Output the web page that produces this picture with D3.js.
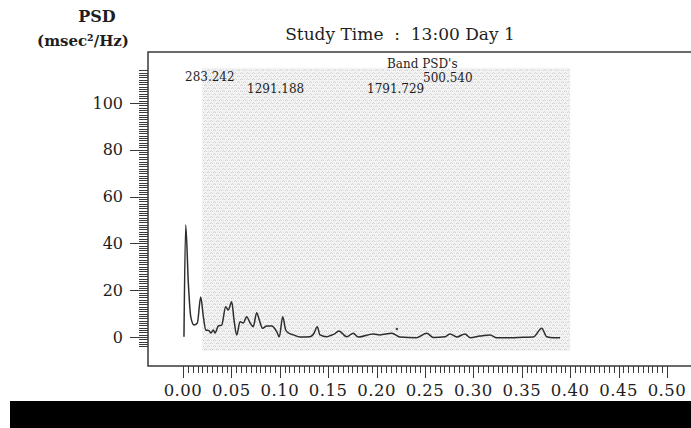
<!DOCTYPE html>
<html><head><meta charset="utf-8">
<script src="https://cdn.jsdelivr.net/npm/d3@7/dist/d3.min.js"></script>
<style>
html,body{margin:0;padding:0;background:#fff;}
svg{display:block;}
text{font-family:"DejaVu Serif",serif;fill:#1e1e1e;}
</style></head>
<body>
<svg id="chart" width="691" height="428"></svg>
<script>
// ---- data ----
const freqs = [0.0010,0.0028,0.0055,0.0080,0.0114,0.0148,0.0183,0.0210,0.0235,0.0269,0.0289,0.0313,0.0330,0.0365,0.0400,0.0441,0.0468,0.0503,0.0527,0.0555,0.0589,0.0623,0.0658,0.0692,0.0726,0.0761,0.0788,0.0823,0.0865,0.0916,0.0968,0.0995,0.1030,0.1061,0.1095,0.1140,0.1209,0.1312,0.1353,0.1387,0.1415,0.1485,0.1519,0.1560,0.1610,0.1691,0.1759,0.1811,0.1966,0.2035,0.2156,0.2242,0.2414,0.2518,0.2586,0.2707,0.2758,0.2828,0.2913,0.2965,0.3068,0.3171,0.3241,0.3378,0.3516,0.3619,0.3706,0.3757,0.3826,0.3895];
const psd   = [0.1,47.9,23.1,8.7,5.1,6.0,17.1,8.7,3.0,2.7,1.7,3.0,1.7,4.7,5.1,12.9,11.5,15.1,7.3,0.9,6.5,6.0,8.7,6.1,4.4,10.4,7.3,3.7,4.7,4.7,2.3,0.1,8.7,3.0,1.6,0.9,0.0,0.1,1.6,4.4,0.9,0.1,0.6,1.2,2.6,0.1,1.6,0.0,1.3,0.9,1.6,0.0,-0.3,1.6,-0.2,0.1,1.3,0.0,1.3,-0.3,0.4,0.9,-0.3,-0.3,-0.1,0.0,3.7,0.1,-0.3,-0.3];
const markerPoint = [0.221, 3.4];
const xTickLabels = ["0.00","0.05","0.10","0.15","0.20","0.25","0.30","0.35","0.40","0.45","0.50"];
const xTickValues = [0,0.05,0.10,0.15,0.20,0.25,0.30,0.35,0.40,0.45,0.50];
const yTickValues = [0,20,40,60,80,100];
const bandRange = [0.02, 0.40];
const bandValueRange = [-6, 115];
const bandTitle = "Band PSD's";
const bandValues = ["283.242","1291.188","1791.729","500.540"];
const titleText = "Study Time  :  13:00 Day 1";
const yTitle = ["PSD","(msec\u00B2/Hz)"];

// ---- drawing ----
const svg = d3.select("#chart");
const x = d3.scaleLinear().domain([0,0.5]).range([183,667]);
const y = d3.scaleLinear().domain([0,100]).range([337,103]);

// speckled pattern for band shading
const defs = svg.append("defs");
const pat = defs.append("pattern").attr("id","hatch").attr("patternUnits","userSpaceOnUse")
  .attr("width",6).attr("height",6);
pat.append("rect").attr("width",6).attr("height",6).attr("fill","#f4f4f4");
pat.append("path").attr("d","M0,2 L1.5,0.5 L3,2 M3,5 L4.5,3.5 L6,5").attr("fill","none")
  .attr("stroke","#c4c4c4").attr("stroke-width",0.8);
pat.append("path").attr("d","M1.5,3.5 L1.5,4.5 M4.5,0.5 L4.5,1.5").attr("fill","none")
  .attr("stroke","#d2d2d2").attr("stroke-width",0.7);

// black strip at bottom
svg.append("rect").attr("x",10).attr("y",401).attr("width",681).attr("height",27).attr("fill","#000");

// band shading
svg.append("rect")
  .attr("x",x(bandRange[0])).attr("y",y(bandValueRange[1]))
  .attr("width",x(bandRange[1])-x(bandRange[0]))
  .attr("height",y(bandValueRange[0])-y(bandValueRange[1]))
  .attr("fill","url(#hatch)");

// frame
const frameColor = "#3a3a3a";
svg.append("path").attr("d","M691,52 H148 V366 H691").attr("fill","none")
  .attr("stroke",frameColor).attr("stroke-width",1.5);

// y ruler
const yMinor = d3.range(-4,115,1);
svg.append("g").selectAll("line").data(yMinor).join("line")
  .attr("x1",d=> d%20===0 && d>=0 && d<=100 ? 130 : 139).attr("x2",148)
  .attr("y1",d=>Math.round(y(d))+0.5).attr("y2",d=>Math.round(y(d))+0.5)
  .attr("stroke",frameColor).attr("stroke-width",1);
svg.append("g").selectAll("text").data(yTickValues).join("text")
  .attr("x",123).attr("y",d=>y(d)+5.5).attr("text-anchor","end")
  .attr("font-size",16).text(d=>d);

// x ruler
const xMinor = d3.range(0,101,1).map(i=>i*0.005);
svg.append("g").selectAll("line").data(xMinor).join("line")
  .attr("x1",d=>Math.round(x(d))+0.5).attr("x2",d=>Math.round(x(d))+0.5)
  .attr("y1",366).attr("y2",(d,i)=> i%10===0 ? 378 : 373)
  .attr("stroke",frameColor).attr("stroke-width",1);
svg.append("g").selectAll("text").data(xTickValues).join("text")
  .attr("x",d=>x(d)).attr("y",396).attr("text-anchor","middle")
  .attr("font-size",16.5).attr("letter-spacing",0.5).text((d,i)=>xTickLabels[i]);

// curve
const line = d3.line().x((d,i)=>x(freqs[i])).y(d=>y(d)).curve(d3.curveMonotoneX);
svg.append("path").datum(psd).attr("d",line).attr("fill","none")
  .attr("stroke","#2e2e2e").attr("stroke-width",1.5).attr("stroke-linejoin","round");
svg.append("circle").attr("cx",x(markerPoint[0])).attr("cy",y(markerPoint[1])).attr("r",1.2).attr("fill","#444");

// titles
svg.append("text").attr("x",400).attr("y",40).attr("text-anchor","middle").attr("font-size",17)
  .style("white-space","pre").text(titleText);
svg.append("text").attr("x",97).attr("y",22).attr("text-anchor","middle").attr("font-size",16)
  .attr("font-weight","bold").text(yTitle[0]);
svg.append("text").attr("x",83).attr("y",46).attr("text-anchor","middle").attr("font-size",15)
  .attr("font-weight","bold").text(yTitle[1]);

// band labels
const bl = svg.append("g").attr("font-size",12);
bl.append("text").attr("x",387).attr("y",68).text(bandTitle);
bl.append("text").attr("x",185).attr("y",81).text(bandValues[0]);
bl.append("text").attr("x",247).attr("y",93).text(bandValues[1]);
bl.append("text").attr("x",367).attr("y",93).text(bandValues[2]);
bl.append("text").attr("x",423).attr("y",82).text(bandValues[3]);
</script>
</body></html>
